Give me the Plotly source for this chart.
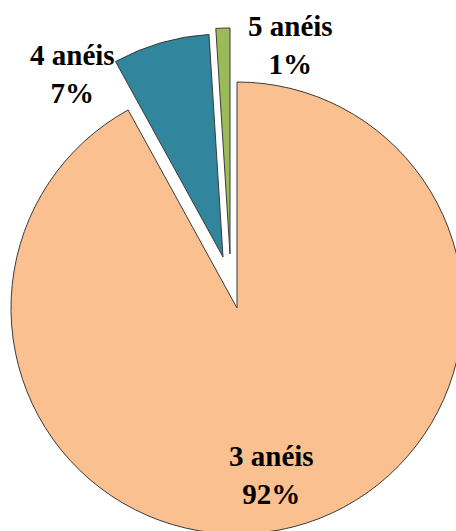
import plotly.graph_objects as go

# Ring-count distribution (percent of samples)
labels = ["3 anéis", "4 anéis", "5 anéis"]
percents = [92, 7, 1]
colors = ["#FAC090", "#31859C", "#9BBB59"]

# Pull-out offset of each slice from the pie centre, in pixels (dx, dy)
explode = [(0, 0), (-14, -51), (-7, -54)]

# The pie runs slightly past the right and bottom edges of the visible page
W, H = 464, 536
CX, CY, R = 237, 308, 226          # pie centre and radius, in pixels

fig = go.Figure()

start = 0.0
for lab, pct, col, (dx, dy) in zip(labels, percents, colors, explode):
    cx, cy = CX + dx, CY + dy
    r = min(R, cx, W - cx, cy, H - cy)
    fig.add_trace(go.Pie(
        values=[pct, 100 - pct],
        labels=[lab, ""],
        sort=False,
        direction="clockwise",
        rotation=start,
        marker=dict(colors=[col, "rgba(0,0,0,0)"],
                    line=dict(color="#3a3a3a", width=[1, 0])),
        textinfo="none",
        hoverinfo="skip",
        showlegend=False,
        domain=dict(x=[(cx - r) / W, (cx + r) / W],
                    y=[(H - cy - r) / H, (H - cy + r) / H]),
    ))
    start += pct * 360 / 100

# Data labels: name and share of each slice
label_pos = [(271, 475), (72, 74), (290, 45)]
font = dict(family="Times New Roman", size=29, color="#000000")
for lab, pct, (x, y) in zip(labels, percents, label_pos):
    fig.add_annotation(
        text=f"<b>{lab}<br>{pct}%</b>",
        x=x / W, y=1 - y / H, xref="paper", yref="paper",
        xanchor="center", yanchor="middle",
        showarrow=False, font=font, align="center",
    )

fig.update_layout(
    width=W, height=H,
    margin=dict(l=0, r=0, t=0, b=0),
    paper_bgcolor="white",
    plot_bgcolor="white",
)

fig.write_html(
    "out.html",
    post_script="document.documentElement.style.overflow='hidden';"
                "document.body.style.overflow='hidden';",
)
